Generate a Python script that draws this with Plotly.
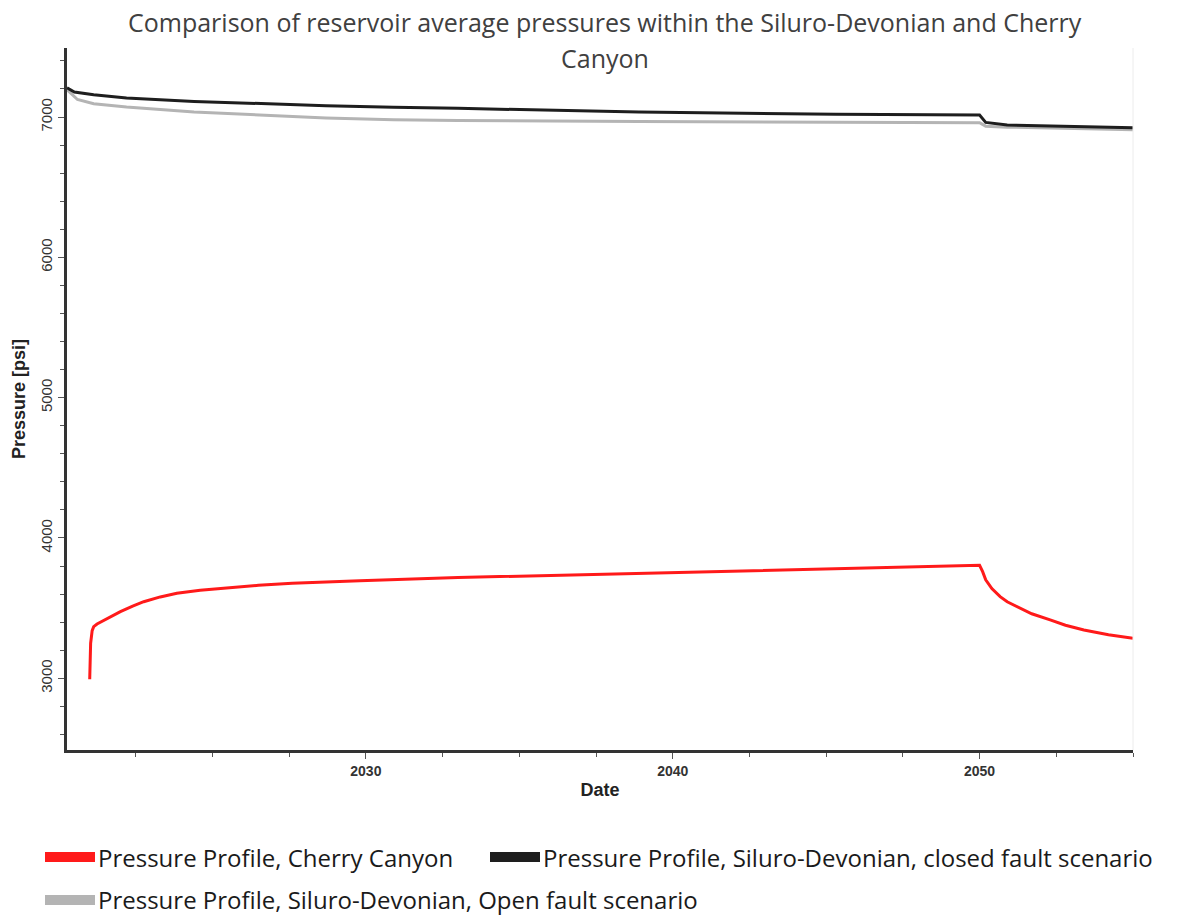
import plotly.graph_objects as go

# ---- data ----
years_red = [2021.0, 2021.03, 2021.08, 2021.13, 2021.24, 2021.6, 2022.0, 2022.4, 2022.76,
             2023.3, 2023.84, 2024.6, 2025.5, 2026.5, 2027.6, 2029.8, 2033.0, 2038.9,
             2045.3, 2049.9, 2050.0, 2050.1, 2050.2, 2050.4, 2050.67, 2050.9, 2051.2,
             2051.7, 2052.3, 2052.8, 2053.4, 2054.2, 2055.0]
red = [2993, 3250, 3340, 3368, 3387, 3430, 3475, 3515, 3546,
       3580, 3606, 3628, 3646, 3663, 3677, 3696, 3718, 3749,
       3784, 3803, 3805, 3760, 3702, 3640, 3582, 3545, 3511,
       3460, 3416, 3378, 3344, 3310, 3285]

years_black = [2020.26, 2020.5, 2021.13, 2022.2, 2024.4, 2026.55, 2028.7, 2030.9,
               2033.0, 2038.9, 2045.3, 2050.0, 2050.2, 2050.9, 2055.0]
black = [7208, 7178, 7159, 7135, 7111, 7095, 7081, 7069,
         7062, 7036, 7020, 7014, 6962, 6943, 6924]

years_gray = [2020.26, 2020.6, 2021.13, 2022.2, 2024.4, 2026.55, 2028.7, 2030.9,
              2033.0, 2038.9, 2045.3, 2050.0, 2050.2, 2050.9, 2055.0]
gray = [7195, 7125, 7095, 7071, 7036, 7012, 6993, 6981,
        6976, 6968, 6962, 6960, 6935, 6928, 6909]

title_lines = ["Comparison of reservoir average pressures within the Siluro-Devonian and Cherry",
               "Canyon"]
legend_names = ["Pressure Profile, Cherry Canyon",
                "Pressure Profile, Siluro-Devonian, closed fault scenario",
                "Pressure Profile, Siluro-Devonian, Open fault scenario"]
x_ticks = [2030, 2040, 2050]
y_ticks = [3000, 4000, 5000, 6000, 7000]

RED, BLACK, GRAY = "#ff1a1a", "#1e1e1e", "#b4b4b4"
TXT_FONT = "Open Sans"

fig = go.Figure()
fig.add_trace(go.Scatter(x=years_gray, y=gray, mode="lines", name=legend_names[2],
                         line=dict(color=GRAY, width=3), showlegend=False))
fig.add_trace(go.Scatter(x=years_black, y=black, mode="lines", name=legend_names[1],
                         line=dict(color=BLACK, width=3), showlegend=False))
fig.add_trace(go.Scatter(x=years_red, y=red, mode="lines", name=legend_names[0],
                         line=dict(color=RED, width=3), showlegend=False))

W, H = 1192, 918
L, R, T, B = 67, 59, 48, 168
pw, ph = W - L - R, H - T - B

def px(xpix):
    return (xpix - L) / pw

def py(ypix):
    return 1 - (ypix - T) / ph

annotations = []
# title
for line, yc in zip(title_lines, [22, 58]):
    annotations.append(dict(text=line, x=px(605), y=py(yc), xref="paper", yref="paper",
                            showarrow=False, xanchor="center", yanchor="middle",
                            font=dict(family=TXT_FONT, size=25, color="#404040")))

# legend (manual)
leg = [(legend_names[0], RED, 45, 857), (legend_names[1], BLACK, 490, 857),
       (legend_names[2], GRAY, 45, 900)]
shapes = []
for name, col, x0, yc in leg:
    shapes.append(dict(type="rect", xref="paper", yref="paper",
                       x0=px(x0), x1=px(x0 + 50), y0=py(yc + 5), y1=py(yc - 5),
                       fillcolor=col, line=dict(width=0)))
    annotations.append(dict(text=name, x=px(x0 + 51), y=py(yc), xref="paper", yref="paper",
                            showarrow=False, xanchor="left", yanchor="middle",
                            font=dict(family=TXT_FONT, size=24, color="#1a1a1a")))

# faint right border
shapes.append(dict(type="line", xref="paper", yref="paper", x0=1, x1=1, y0=0, y1=1,
                   line=dict(color="#ececec", width=1)))

fig.update_layout(
    width=W, height=H,
    margin=dict(l=L, r=R, t=T, b=B),
    paper_bgcolor="white", plot_bgcolor="white",
    showlegend=False,
    annotations=annotations,
    shapes=shapes,
    xaxis=dict(
        range=[2020.26, 2055.0],
        tickmode="array", tickvals=x_ticks, ticktext=["<b>%d</b>" % v for v in x_ticks],
        ticks="outside", ticklen=6, tickwidth=1, tickcolor="#555",
        minor=dict(tickmode="linear", tick0=2030, dtick=2.5, ticks="outside",
                   ticklen=4, tickcolor="#555", showgrid=False),
        showgrid=False, zeroline=False,
        showline=True, linecolor="#333", linewidth=2.5,
        tickfont=dict(family="Arial", size=14, color="#333"),
        title=dict(text="<b>Date</b>", font=dict(family="Arial", size=18, color="#222"),
                   standoff=6),
    ),
    yaxis=dict(
        range=[2489, 7492],
        tickmode="array", tickvals=y_ticks, ticktext=[str(v) for v in y_ticks],
        tickangle=-90,
        ticks="outside", ticklen=6, tickwidth=1, tickcolor="#555",
        minor=dict(tickmode="linear", tick0=3000, dtick=200, ticks="outside",
                   ticklen=4, tickcolor="#555", showgrid=False),
        showgrid=False, zeroline=False,
        showline=True, linecolor="#333", linewidth=2.5,
        tickfont=dict(family="Arial", size=15, color="#333"),
        title=dict(text="<b>Pressure [psi]</b>", font=dict(family="Arial", size=18, color="#222"),
                   standoff=8),
    ),
)

fig.write_html("out.html")
